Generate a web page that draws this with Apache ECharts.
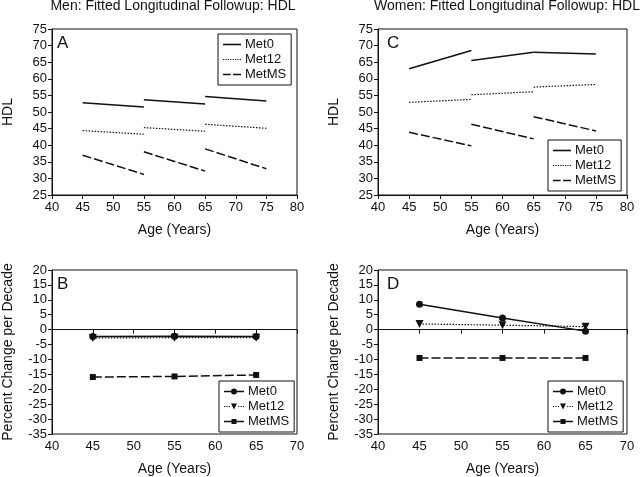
<!DOCTYPE html>
<html>
<head>
<meta charset="utf-8">
<script src="https://cdn.jsdelivr.net/npm/echarts@6/dist/echarts.min.js"></script>
<style>
  html, body { margin: 0; padding: 0; background: #fff; }
  #chart { width: 640px; height: 477px; }
</style>
</head>
<body>
<div id="chart"></div>
<script>
// segment start ages, each fitted segment covers 10 years
const segStarts = [45, 55, 65];
const segLen = 10;

// fitted HDL at start / end of each segment
const menHdlMet0 = [[52.8, 51.5], [53.7, 52.4], [54.7, 53.3]];
const menHdlMet12 = [[44.4, 43.3], [45.3, 44.2], [46.3, 45.1]];
const menHdlMetMS = [[37.0, 31.2], [38.0, 32.2], [38.9, 32.9]];
const womenHdlMet0 = [[63.0, 68.5], [65.5, 68.0], [68.0, 67.5]];
const womenHdlMet12 = [[52.9, 53.8], [55.2, 56.1], [57.5, 58.3]];
const womenHdlMetMS = [[43.9, 39.8], [46.3, 41.9], [48.6, 44.3]];

// percent change per decade
const pctAges = [45, 55, 65];
const menPctMet0 = [-2.3, -2.2, -2.3];
const menPctMet12 = [-2.8, -2.7, -2.7];
const menPctMetMS = [-15.9, -15.7, -15.2];
const womenPctMet0 = [8.5, 3.9, -0.5];
const womenPctMet12 = [1.9, 1.5, 1.0];
const womenPctMetMS = [-9.5, -9.5, -9.5];

const groups = ['Met0', 'Met12', 'MetMS'];
const ink = '#111';
const font = 'Liberation Sans, Arial, sans-serif';

// line look per group
const look = {
  Met0: { type: 'solid', width: 1.5, symbol: 'circle', size: 7, rotate: 0 },
  Met12: { type: [1.5, 1.5], width: 1.2, symbol: 'triangle', size: 8, rotate: 180 },
  MetMS: { type: [9, 3], width: 1.5, symbol: 'rect', size: 6, rotate: 0 }
};

// legend icons drawn as filled paths (line pattern + optional marker)
function rp(x, y, w, h) { return 'M' + x + ' ' + y + 'h' + w + 'v' + h + 'h' + (-w) + 'Z'; }
function lineParts(kind, x0, x1) {
  let p = '';
  if (kind === 'Met0') p += rp(x0, 4.2, x1 - x0, 1.6);
  else if (kind === 'Met12') { for (let x = x0; x < x1 - 0.5; x += 2.4) p += rp(x, 4.4, 1.2, 1.2); }
  else {
    const w = x1 - x0;
    p += rp(x0, 4.2, w * 0.42, 1.6) + rp(x0 + w * 0.56, 4.2, w * 0.44, 1.6);
  }
  return p;
}
function iconPath(kind, W, withMark) {
  if (!withMark) return 'path://' + lineParts(kind, 0, W);
  const c = W / 2, r = 3;
  let p;
  if (kind === 'Met12') {
    p = lineParts(kind, 0, c - r - 1) + lineParts(kind, c + r + 1, W);
    p += 'M' + (c - r) + ' 2L' + (c + r) + ' 2L' + c + ' 8Z';
  } else if (kind === 'MetMS') {
    p = rp(0, 4.2, c - 2.5, 1.6) + rp(c + 2.5, 4.2, W - c - 2.5, 1.6) + rp(c - 2.5, 2.5, 5, 5);
  } else {
    p = rp(0, 4.2, c - r, 1.6) + rp(c + r, 4.2, W - c - r, 1.6);
    p += 'M' + (c - r) + ' 5A' + r + ' ' + r + ' 0 1 0 ' + (c + r) + ' 5A' + r + ' ' + r + ' 0 1 0 ' + (c - r) + ' 5Z';
  }
  return 'path://' + p;
}

const chart = echarts.init(document.getElementById('chart'));

// 0 = A, 1 = C, 2 = B, 3 = D
const grids = [
  { left: 49, top: 29, width: 248, height: 166 },
  { left: 378, top: 29, width: 249, height: 166 },
  { left: 49, top: 270, width: 248, height: 166 },
  { left: 378, top: 270, width: 249, height: 166 }
].map(g => Object.assign(g, { show: true, borderColor: ink, borderWidth: 1, backgroundColor: 'transparent' }));

function xAx(i, max) {
  return {
    type: 'value', gridIndex: i, min: 40, max: max, interval: 5,
    name: 'Age (Years)', nameLocation: 'middle', nameGap: 28,
    nameTextStyle: { fontSize: 14, color: ink, fontFamily: font },
    axisLine: { lineStyle: { color: ink, width: 1 } },
    axisTick: { inside: false, length: 4, lineStyle: { color: ink } },
    axisLabel: { fontSize: 13, color: ink, fontFamily: font, margin: 6 },
    splitLine: { show: false }
  };
}
function yAx(i, min, max, name) {
  return {
    type: 'value', gridIndex: i, min: min, max: max, interval: 5,
    name: name, nameLocation: 'middle', nameGap: 37,
    nameTextStyle: { fontSize: 14, color: ink, fontFamily: font },
    axisLine: { lineStyle: { color: ink, width: 1 } },
    axisTick: { inside: false, length: 4, lineStyle: { color: ink } },
    axisLabel: { fontSize: 13, color: ink, fontFamily: font, margin: 5 },
    splitLine: { show: false }
  };
}

function segSeries(prefix, name, segs, axis) {
  const lk = look[name];
  return segs.map((s, i) => ({
    name: prefix + name, type: 'line', xAxisIndex: axis, yAxisIndex: axis,
    data: [[segStarts[i], s[0]], [segStarts[i] + segLen, s[1]]],
    symbol: 'none', silent: true,
    lineStyle: { color: ink, width: lk.width, type: lk.type },
    itemStyle: { color: ink }
  }));
}

function pctSeries(prefix, name, vals, axis, zeroLine) {
  const lk = look[name];
  const s = {
    name: prefix + name, type: 'line', xAxisIndex: axis, yAxisIndex: axis,
    data: vals.map((v, i) => [pctAges[i], v]),
    symbol: lk.symbol, symbolSize: lk.size, symbolRotate: lk.rotate, showSymbol: true,
    silent: true,
    lineStyle: { color: ink, width: lk.width, type: lk.type },
    itemStyle: { color: ink }
  };
  if (zeroLine) {
    s.markLine = {
      silent: true, symbol: ['none', 'none'], label: { show: false },
      lineStyle: { color: ink, type: 'solid', width: 1 },
      data: [{ yAxis: 0 }]
    };
  }
  return s;
}

function legend(prefix, left, top, iconW, withMark) {
  return {
    orient: 'vertical', left: left, top: top,
    data: groups.map(g => ({ name: prefix + g, icon: iconPath(g, iconW, withMark) })),
    formatter: n => n.slice(prefix.length),
    itemWidth: iconW, itemHeight: 13, itemGap: 2, symbolKeepAspect: true,
    padding: [4, 5], borderColor: ink, borderWidth: 1, borderRadius: 0,
    backgroundColor: '#fff', selectedMode: false,
    itemStyle: { color: ink, borderWidth: 0 },
    textStyle: { fontSize: 13, color: ink, fontFamily: font, padding: [0, 0, 0, -1] }
  };
}

const series = []
  .concat(segSeries('A ', 'Met0', menHdlMet0, 0))
  .concat(segSeries('A ', 'Met12', menHdlMet12, 0))
  .concat(segSeries('A ', 'MetMS', menHdlMetMS, 0))
  .concat(segSeries('C ', 'Met0', womenHdlMet0, 1))
  .concat(segSeries('C ', 'Met12', womenHdlMet12, 1))
  .concat(segSeries('C ', 'MetMS', womenHdlMetMS, 1))
  .concat([
    pctSeries('B ', 'Met0', menPctMet0, 2, true),
    pctSeries('B ', 'Met12', menPctMet12, 2),
    pctSeries('B ', 'MetMS', menPctMetMS, 2),
    pctSeries('D ', 'Met0', womenPctMet0, 3, true),
    pctSeries('D ', 'Met12', womenPctMet12, 3),
    pctSeries('D ', 'MetMS', womenPctMetMS, 3)
  ]);

function letter(t, left, top) {
  return { text: t, left: left, top: top, padding: 0,
    textStyle: { fontSize: 17, fontWeight: 'normal', color: ink, fontFamily: font } };
}

chart.setOption({
  animation: false,
  backgroundColor: '#fff',
  title: [
    { text: 'Men: Fitted Longitudinal Followup: HDL', left: 173, top: -1, textAlign: 'center', padding: 0,
      textStyle: { fontSize: 14, fontWeight: 'normal', color: ink, fontFamily: font } },
    { text: 'Women: Fitted Longitudinal Followup: HDL', left: 507, top: -1, textAlign: 'center', padding: 0,
      textStyle: { fontSize: 14, fontWeight: 'normal', color: ink, fontFamily: font } },
    letter('A', 57, 35), letter('C', 387, 35), letter('B', 57, 276), letter('D', 387, 276)
  ],
  grid: grids,
  xAxis: [xAx(0, 80), xAx(1, 80), xAx(2, 70), xAx(3, 70)],
  yAxis: [yAx(0, 25, 75, 'HDL'), yAx(1, 25, 75, 'HDL'),
          yAx(2, -35, 20, 'Percent Change per Decade'), yAx(3, -35, 20, 'Percent Change per Decade')],
  legend: [
    legend('A ', 218, 34, 18, false),
    legend('C ', 548, 140, 18, false),
    legend('B ', 219, 381, 20, true),
    legend('D ', 548, 381, 20, true)
  ],
  series: series
});
</script>
</body>
</html>
